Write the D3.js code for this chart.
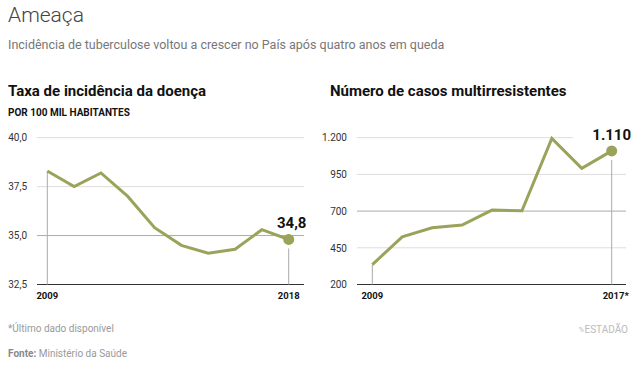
<!DOCTYPE html>
<html><head><meta charset="utf-8">
<script src="https://cdn.jsdelivr.net/npm/d3@7"></script>
<style>
body{margin:0;background:#fff;}
svg{display:block;font-family:Roboto,"Noto Sans",sans-serif;}
</style></head>
<body>
<script>
const years1 = [2009,2010,2011,2012,2013,2014,2015,2016,2017,2018];
const incidence = [38.3,37.5,38.2,37.0,35.4,34.5,34.1,34.3,35.3,34.8];
const ticks1 = [32.5,35.0,37.5,40.0];
const years2 = [2009,2010,2011,2012,2013,2014,2015,2016,2017];
const mdr = [335,525,586,605,707,702,1195,991,1110];
const ticks2 = [200,450,700,950,1200];

const W=640,H=366;
const svg=d3.select("body").append("svg").attr("width",W).attr("height",H);
const green="#9ba35a";

svg.append("text").attr("x",8).attr("y",22).attr("font-size",21).attr("font-weight",300).attr("fill","#444").text("Ameaça");
svg.append("text").attr("x",8).attr("y",49).attr("font-size",12.5).attr("fill","#777").text("Incidência de tuberculose voltou a crescer no País após quatro anos em queda");

svg.append("text").attr("x",8).attr("y",96).attr("font-size",15).attr("font-weight",700).attr("fill","#111").text("Taxa de incidência da doença");
svg.append("text").attr("x",8).attr("y",116).attr("font-size",10).attr("font-weight",700).attr("fill","#111").text("POR 100 MIL HABITANTES");
svg.append("text").attr("x",330).attr("y",96).attr("font-size",15).attr("font-weight",700).attr("fill","#111").text("Número de casos multirresistentes");

function panel(o){
  const g=svg.append("g");
  const x=d3.scaleLinear().domain(o.xd).range(o.xr);
  const y=d3.scaleLinear().domain(o.yd).range(o.yr);
  o.ticks.forEach((t,i)=>{
    if(i===0) return;
    const x2 = (o.shortTop && t===o.yd[1]) ? o.shortTop : o.gx[1];
    g.append("line").attr("x1",o.gx[0]).attr("x2",x2).attr("y1",y(t)).attr("y2",y(t))
      .attr("stroke", t===o.dark ? "#aaa":"#ddd").attr("stroke-width",1);
  });
  const ax=d3.axisLeft(y).tickValues(o.ticks).tickSize(0).tickFormat(o.fmt);
  const ag=g.append("g").attr("transform",`translate(${o.lx},0)`).call(ax);
  ag.select(".domain").remove();
  ag.selectAll("text").attr("font-size",10).attr("fill","#333").attr("font-family","Roboto,sans-serif").attr("dx",0);
  g.append("line").attr("x1",o.gx[0]).attr("x2",o.gx[1]).attr("y1",y(o.yd[0])).attr("y2",y(o.yd[0])).attr("stroke","#333").attr("stroke-width",1);
  const xs=o.years, vs=o.vals, n=xs.length;
  g.append("line").attr("x1",x(xs[0])).attr("x2",x(xs[0])).attr("y1",y(vs[0])).attr("y2",y(o.yd[0])).attr("stroke","#aaa");
  g.append("line").attr("x1",x(xs[n-1])).attr("x2",x(xs[n-1])).attr("y1",y(vs[n-1])+9).attr("y2",y(o.yd[0])).attr("stroke","#aaa");
  const line=d3.line().x((d,i)=>x(xs[i])).y(d=>y(d));
  g.append("path").datum(vs).attr("d",line).attr("fill","none").attr("stroke",green).attr("stroke-width",3).attr("stroke-linejoin","miter");
  g.append("circle").attr("cx",x(xs[n-1])).attr("cy",y(vs[n-1])).attr("r",5.5).attr("fill",green);
  g.append("text").attr("x",x(xs[n-1])+o.labDx).attr("y",y(vs[n-1])-11).attr("text-anchor","middle").attr("font-size",15).attr("font-weight",700).attr("fill","#111").text(o.lab);
  g.append("text").attr("x",x(xs[0])).attr("y",299).attr("text-anchor","middle").attr("font-size",9.5).attr("font-weight",700).attr("fill","#111").text(String(xs[0]));
  g.append("text").attr("x",x(xs[n-1])+o.endDx).attr("y",299).attr("text-anchor","middle").attr("font-size",9.5).attr("font-weight",700).attr("fill","#111").text(o.endLab);
}
const fmtComma=d=>d3.format(".1f")(d).replace(".",",");
const fmtDot=d=>d3.format(",")(d).replace(/,/g,".");

panel({xd:[2009,2018],xr:[47.3,288.7],yd:[32.5,40],yr:[284.5,137.7],ticks:ticks1,gx:[37,304],lx:30,
  years:years1,vals:incidence,fmt:fmtComma,lab:"34,8",labDx:3,endLab:"2018",endDx:0,dark:35.0});
panel({xd:[2009,2017],xr:[372.3,611.7],yd:[200,1200],yr:[284.5,137.7],ticks:ticks2,gx:[357,626],lx:350,shortTop:573,
  years:years2,vals:mdr,fmt:fmtDot,lab:"1.110",labDx:0,endLab:"2017*",endDx:4,dark:700});

svg.append("text").attr("x",8).attr("y",332).attr("font-size",10).attr("fill","#999").attr("font-family","'Liberation Sans Narrow',Roboto,sans-serif").text("*Último dado disponível");
const f=svg.append("text").attr("x",8).attr("y",357).attr("font-size",10).attr("fill","#999").attr("font-family","'Liberation Sans Narrow',Roboto,sans-serif");
f.append("tspan").attr("font-weight",700).attr("fill","#888").text("Fonte: ");
f.append("tspan").text("Ministério da Saúde");
svg.append("text").attr("x",628).attr("y",333).attr("text-anchor","end").attr("font-size",10).attr("fill","#bbb").attr("font-family","'Liberation Sans Narrow',Roboto,sans-serif").text("ESTADÃO");
svg.append("text").attr("x",584).attr("y",332).attr("text-anchor","end").attr("font-size",7).attr("fill","#bbb").text("%");
</script>
</body></html>
